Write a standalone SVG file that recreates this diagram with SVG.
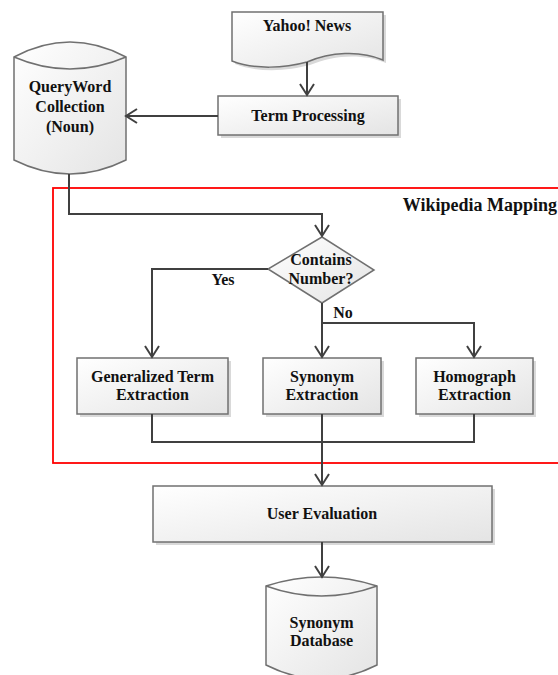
<svg xmlns="http://www.w3.org/2000/svg" width="558" height="675" viewBox="0 0 558 675">
<defs>
<linearGradient id="g" x1="0" y1="0" x2="1" y2="1">
<stop offset="0" stop-color="#ffffff"/>
<stop offset="1" stop-color="#e4e4e4"/>
</linearGradient>
<marker id="arr" markerUnits="userSpaceOnUse" markerWidth="24" markerHeight="24" viewBox="-12 -12 24 24" refX="0" refY="0" orient="auto">
<path d="M-11,-7 L0,0 L-11,7" fill="none" stroke="#404040" stroke-width="2"/>
</marker>
</defs>
<style>
.shape{fill:url(#g);stroke:#707070;stroke-width:1.5}
.shadow{fill:#d9d9d9;stroke:none}
.conn{fill:none;stroke:#404040;stroke-width:2}
.t{font-family:'Liberation Serif','Times New Roman',serif;font-weight:bold;font-size:16px;fill:#111;text-anchor:middle}
.wm{font-size:18px;text-anchor:end}
</style>
<rect x="0" y="0" width="558" height="675" fill="#ffffff"/>

<g id="wikipedia-mapping">
<rect x="53" y="188" width="520" height="275" fill="none" stroke="#ff0000" stroke-width="1.8"/>
<text class="t wm" x="557" y="211">Wikipedia Mapping</text>
</g>

<g id="yahoo-news">
<path class="shadow" d="M235 15 L386 15 L386 63 C363 53 333 55 310 65 C288 71 258 73 235 64 Z"/>
<path class="shape" d="M232 12 L383 12 L383 60 C360 50 330 52 307 62 C285 68 255 70 232 61 Z"/>
<text class="t" x="307" y="31">Yahoo! News</text>
</g>

<g id="term-processing">
<rect class="shadow" x="221" y="99" width="180" height="39"/>
<rect class="shape" x="218" y="96" width="180" height="39"/>
<text class="t" x="308" y="121">Term Processing</text>
</g>

<g id="queryword-collection">
<path class="shape" d="M14 57 Q70 27 126 57 L126 160 Q70 188 14 160 Z"/>
<path d="M14 57 Q70 81 126 57" fill="none" stroke="#707070" stroke-width="1.5"/>
<text class="t" x="70" y="92">QueryWord</text>
<text class="t" x="70" y="112">Collection</text>
<text class="t" x="70" y="132">(Noun)</text>
</g>

<g id="contains-number">
<path class="shape" d="M322 237 L374 270 L322 303 L268 269 Z"/>
<text class="t" x="321" y="265">Contains</text>
<text class="t" x="321" y="284">Number?</text>
</g>

<g id="generalized-term-extraction">
<rect class="shadow" x="80" y="361" width="151" height="56"/>
<rect class="shape" x="77" y="358" width="151" height="56"/>
<text class="t" x="152.5" y="382">Generalized Term</text>
<text class="t" x="152.5" y="400">Extraction</text>
</g>

<g id="synonym-extraction">
<rect class="shadow" x="266" y="361" width="118" height="56"/>
<rect class="shape" x="263" y="358" width="118" height="56"/>
<text class="t" x="322" y="382">Synonym</text>
<text class="t" x="322" y="400">Extraction</text>
</g>

<g id="homograph-extraction">
<rect class="shadow" x="419" y="361" width="117" height="56"/>
<rect class="shape" x="416" y="358" width="117" height="56"/>
<text class="t" x="474.5" y="382">Homograph</text>
<text class="t" x="474.5" y="400">Extraction</text>
</g>

<g id="user-evaluation">
<rect class="shadow" x="156" y="489" width="339" height="56"/>
<rect class="shape" x="153" y="486" width="339" height="56"/>
<text class="t" x="322" y="519">User Evaluation</text>
</g>

<g id="synonym-database">
<path class="shape" d="M266 586 Q321.5 568 377 586 L377 665 Q321.5 693 266 665 Z"/>
<path d="M266 586 Q321.5 606 377 586" fill="none" stroke="#707070" stroke-width="1.5"/>
<text class="t" x="321.5" y="628">Synonym</text>
<text class="t" x="321.5" y="646">Database</text>
</g>

<g id="connectors">
<path class="conn" d="M307 62 L307 95" marker-end="url(#arr)"/>
<path class="conn" d="M218 116 L126 116" marker-end="url(#arr)"/>
<path class="conn" d="M69 174 L69 214 L322 214 L322 236" marker-end="url(#arr)"/>
<path class="conn" d="M268 269 L152 269 L152 357" marker-end="url(#arr)"/>
<path class="conn" d="M322 303 L322 357" marker-end="url(#arr)"/>
<path class="conn" d="M322 323 L474 323 L474 357" marker-end="url(#arr)"/>
<path class="conn" d="M152 414 L152 442 L474 442 L474 414"/>
<path class="conn" d="M322 414 L322 485" marker-end="url(#arr)"/>
<path class="conn" d="M322 542 L322 577" marker-end="url(#arr)"/>
<text class="t" x="223" y="285">Yes</text>
<text class="t" x="343" y="318">No</text>
</g>
</svg>
